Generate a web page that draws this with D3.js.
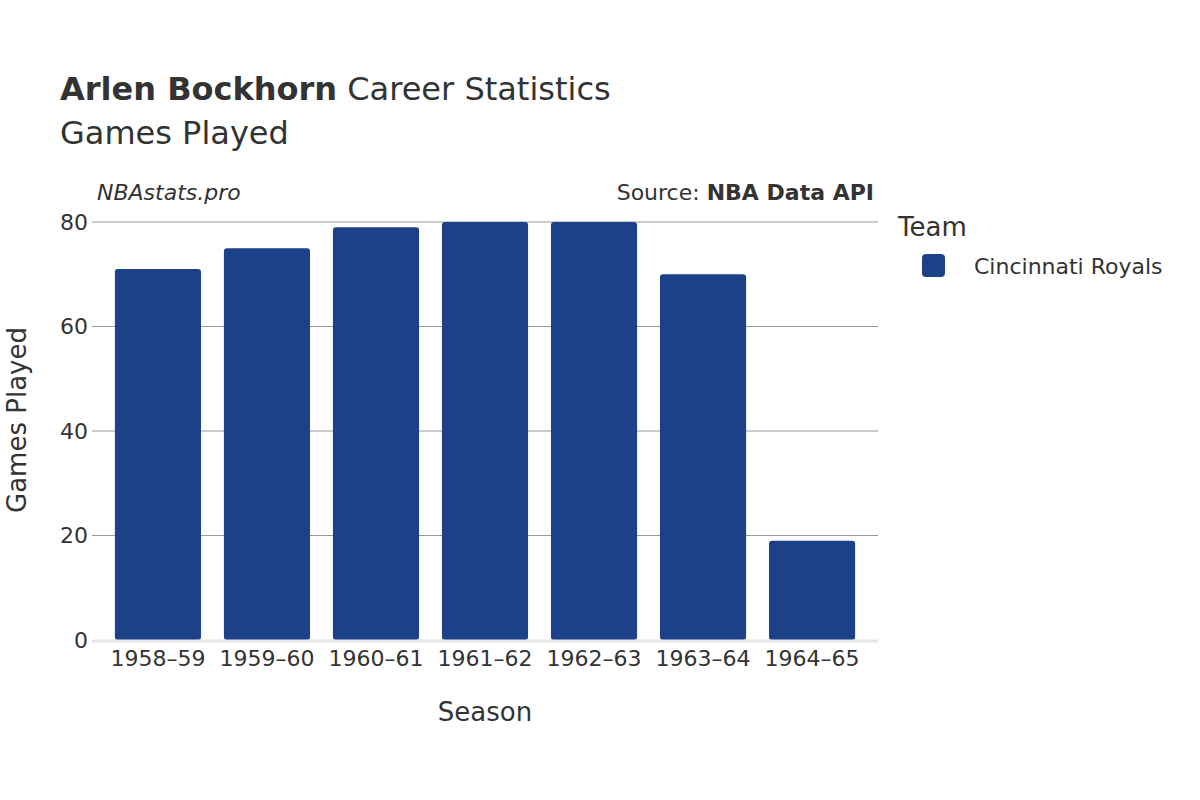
<!DOCTYPE html>
<html><head><meta charset="utf-8">
<script src="https://cdn.jsdelivr.net/npm/d3@7"></script>
<style>body{margin:0;background:#fff}text{font-family:"DejaVu Sans",sans-serif;fill:#333}</style>
</head><body>
<script>
var seasons = ['1958–59','1959–60','1960–61','1961–62','1962–63','1963–64','1964–65'];
var games = [71, 75, 79, 80, 80, 70, 19];
var yTicks = [0, 20, 40, 60, 80];
var color = '#1c4189';

var svg = d3.select('body').append('svg').attr('width', 1200).attr('height', 800);
var x = d3.scaleBand().domain(seasons).range([92, 878]).padding(0.21);
var y = d3.scaleLinear().domain([0, 80]).range([640, 222]);

svg.selectAll('.grid').data(yTicks.slice(1)).enter().append('line')
    .attr('x1', 92).attr('x2', 878).attr('y1', d => y(d)).attr('y2', d => y(d))
    .attr('stroke', '#999').attr('stroke-width', 1);

svg.selectAll('.bar').data(games).enter().append('rect')
    .attr('x', (d, i) => x(seasons[i])).attr('width', x.bandwidth())
    .attr('y', d => y(d)).attr('height', d => 640 - y(d))
    .attr('rx', 3).attr('fill', color);
svg.append('line').attr('x1', 92).attr('x2', 878).attr('y1', 641).attr('y2', 641)
    .attr('stroke', '#e5e5e5').attr('stroke-width', 3);

svg.selectAll('.yt').data(yTicks).enter().append('text')
    .attr('x', 88).attr('y', d => y(d)).attr('dy', '0.35em').attr('text-anchor', 'end')
    .style('font-size', '22px').text(d => d);
svg.selectAll('.xt').data(seasons).enter().append('text')
    .attr('x', d => x(d) + x.bandwidth() / 2).attr('y', 666).attr('text-anchor', 'middle')
    .style('font-size', '22px').text(d => d);

svg.append('text').attr('x', 485).attr('y', 721).attr('text-anchor', 'middle')
    .style('font-size', '26px').text('Season');
svg.append('text').attr('transform', 'translate(26,420) rotate(-90)').attr('text-anchor', 'middle')
    .style('font-size', '26px').text('Games Played');

var t = svg.append('text').attr('x', 60).attr('y', 100).style('font-size', '32px');
t.append('tspan').style('font-weight', 'bold').text('Arlen Bockhorn');
t.append('tspan').text(' Career Statistics');
svg.append('text').attr('x', 60).attr('y', 144).style('font-size', '32px').text('Games Played');

svg.append('text').attr('x', 97).attr('y', 200).style('font-size', '22px').style('font-style', 'italic').text('NBAstats.pro');
var s = svg.append('text').attr('x', 874).attr('y', 200).attr('text-anchor', 'end').style('font-size', '22px');
s.append('tspan').text('Source: ');
s.append('tspan').style('font-weight', 'bold').text('NBA Data API');

svg.append('text').attr('x', 898).attr('y', 236).style('font-size', '26px').text('Team');
svg.append('rect').attr('x', 922).attr('y', 254).attr('width', 23).attr('height', 23).attr('rx', 4).attr('fill', color);
svg.append('text').attr('x', 974).attr('y', 266).attr('dy', '0.35em').style('font-size', '22px').text('Cincinnati Royals');
</script>
</body></html>
